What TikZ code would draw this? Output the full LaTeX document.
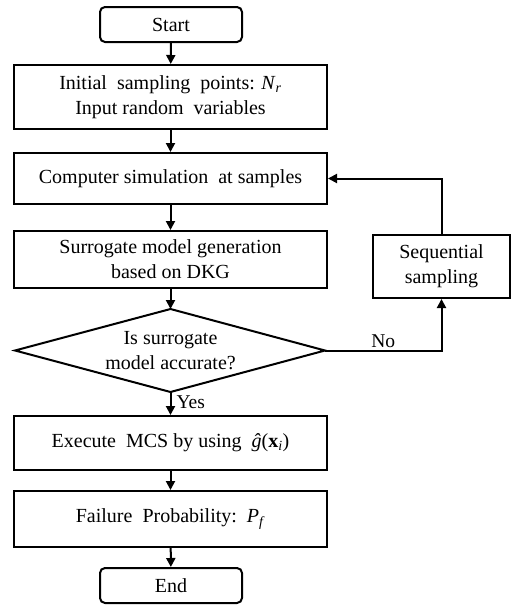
\documentclass[tikz,border=0pt]{standalone}
\usepackage{fontspec}
\setmainfont{Liberation Serif}
\usetikzlibrary{arrows.meta}
\begin{document}
\begin{tikzpicture}[x=1pt,y=-1pt,
  every node/.style={font=\fontsize{20}{25}\selectfont},
  procbox/.style={draw, line width=2pt, minimum width=313pt, inner sep=0pt, align=center},
  termbox/.style={draw, line width=2pt, rounded corners=5pt, minimum width=142pt, minimum height=35pt, inner sep=0pt},
  conn/.style={line width=2pt, -{Triangle[length=9pt,width=9pt]}},
  lbl/.style={font=\fontsize{19.5}{22}\selectfont, inner sep=1pt}]
\useasboundingbox (0,0) rectangle (511,605);
\node[termbox] (start) at (171,24.5) {Start};
\node[procbox, minimum height=64pt] (init) at (170.5,97) {Initial\ \ sampling\ \ points: \textit{N}\textsubscript{\textit{r}}\\Input random\ \ variables};
\node[procbox, minimum height=51pt] (comp) at (170.5,178.5) {Computer simulation\ \ at samples};
\node[procbox, minimum height=57pt] (surr) at (170.5,259.5) {Surrogate model generation\\based on DKG};
\coordinate (dtop) at (170.5,309);
\coordinate (dbot) at (170.5,392);
\coordinate (dleft) at (15,350.5);
\coordinate (dright) at (325,350.5);
\draw[line width=2pt] (dtop) -- (dright) -- (dbot) -- (dleft) -- cycle;
\node[align=center] (dec) at (170.5,350.5) {Is surrogate\\model accurate?};
\node[draw, line width=2pt, minimum width=137pt, minimum height=63pt, inner sep=0pt, align=center] (seq) at (441.5,266.5) {Sequential\\sampling};
\node[procbox, minimum height=54pt] (exec) at (170.5,443) {Execute\ \ MCS by using\ \ \textit{ĝ}(\textbf{x}\textsubscript{\textit{i}})};
\node[procbox, minimum height=56pt] (fail) at (170.5,519) {Failure\ \ Probability:\ \ \textit{P}\textsubscript{\textit{f}}};
\node[termbox] (end) at (171,585.5) {End};
\draw[conn] (start) -- (init);
\draw[conn] (init) -- (comp);
\draw[conn] (comp) -- (surr);
\draw[conn] (surr) -- (dtop);
\draw[conn] (dbot) -- node[lbl, right, pos=0.45, xshift=4pt] {Yes} (exec);
\draw[conn] (exec) -- (fail);
\draw[conn] (fail) -- (end);
\draw[conn] (dright) -- node[lbl, above, pos=0.5, yshift=1pt] {No} (seq.south |- dright) -- (seq.south);
\draw[conn] (seq.north) -- (seq.north |- comp.east) -- (comp.east);
\end{tikzpicture}
\end{document}
